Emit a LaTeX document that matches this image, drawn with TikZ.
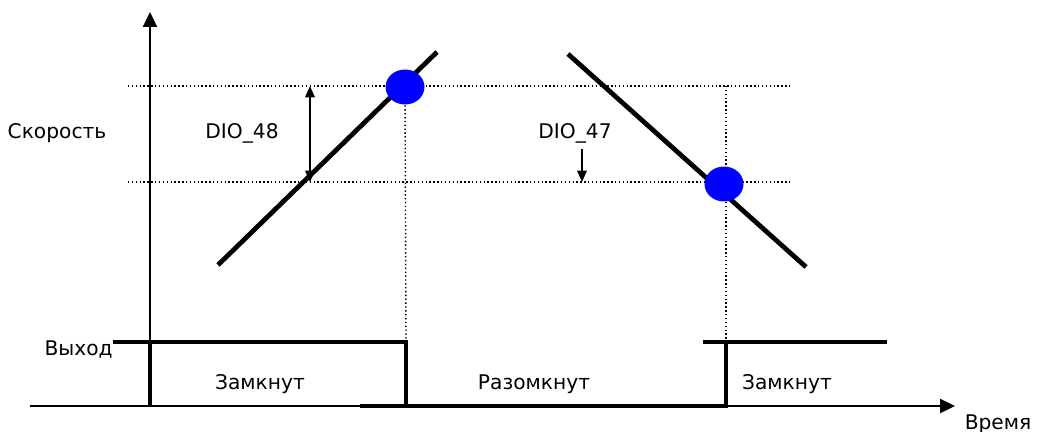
\documentclass[tikz,border=0pt]{standalone}
\usepackage{fontspec}
\setmainfont{DejaVu Sans}
\usetikzlibrary{positioning, arrows.meta, shapes.geometric}

\begin{document}
\begin{tikzpicture}[x=0.02cm, y=-0.02cm, font=\fontsize{11.5}{13}\selectfont]

		\tikzstyle{txt} = [inner sep=0pt]
		\tikzstyle{axis} = [line width=1.1pt, -{Triangle[length=8.5pt, width=8pt]}]
		\tikzstyle{guide} = [dash pattern=on 0.8pt off 1.4pt, line width=0.8pt]
		\tikzstyle{ramp} = [line width=2.7pt]
		\tikzstyle{signal} = [line width=2.3pt]
		\tikzstyle{span} = [line width=0.8pt, {Triangle[length=6.5pt, width=5.5pt]}-{Triangle[length=6.5pt, width=5.5pt]}]
		\tikzstyle{marker} = [ellipse, fill=blue, inner sep=0pt, minimum width=0.78cm, minimum height=0.7cm]

		\useasboundingbox (0,0) rectangle (1038,432);

		% Define points
		\coordinate (origin) at (150,406);
		\coordinate (ytop) at (150,12);
		\coordinate (tstart) at (30,406);
		\coordinate (tend) at (955,406);
		\coordinate (upleft) at (128,86);
		\coordinate (upright) at (790,86);
		\coordinate (lowleft) at (128,182);
		\coordinate (lowright) at (790,182);
		\coordinate (risea) at (218,265);
		\coordinate (riseb) at (437,52);
		\coordinate (falla) at (568,54);
		\coordinate (fallb) at (806,267);
		\coordinate (sw1) at (406,342);
		\coordinate (sw2) at (726,342);
		\coordinate (sw1low) at (406,406);
		\coordinate (sw2low) at (726,406);
		\coordinate (sw2top) at (726,86);

		% Define nodes
		\node[txt] (speed) at (57,133) {Скорость};
		\node[txt, anchor=east] (out) at (113,350) {Выход};
		\node[txt] (time) at (998,424) {Время};
		\node[txt] (dio48) at (242,133) {DIO\_48};
		\node[txt] (dio47) at (575,133) {DIO\_47};
		\node[txt] (closed1) at (260,384) {Замкнут};
		\node[txt] (open) at (534,384) {Разомкнут};
		\node[txt] (closed2) at (787,384) {Замкнут};

		% Draw guides
		\draw[guide] (upleft) -- (upright);
		\draw[guide] (lowleft) -- (lowright);
		\draw[guide] (405,86) -- (sw1);
		\draw[guide] (sw2top) -- (sw2);

		% Draw axes
		\draw[axis] (origin) -- (ytop);
		\draw[axis] (tstart) -- (tend);

		% Draw speed
		\draw[ramp] (risea) -- (riseb);
		\draw[ramp] (falla) -- (fallb);
		\node[marker] (dotup) at (405,87) {};
		\node[marker] (dotdown) at (724,184) {};

		% Draw thresholds
		\draw[span] (310,86) -- (310,182);
		\draw[-{Triangle[length=6.5pt, width=5.5pt]}, line width=0.8pt] (582,149) -- (582,182);

		% Draw output
		\draw[signal] (out.east |- sw1) -- (sw1) -- (sw1low);
		\draw[signal] (150,342) -- (origin);
		\draw[signal] (360,406) -- (sw2low) -- (sw2);
		\draw[signal] (703,342) -- (887,342);

	\end{tikzpicture}
\end{document}
